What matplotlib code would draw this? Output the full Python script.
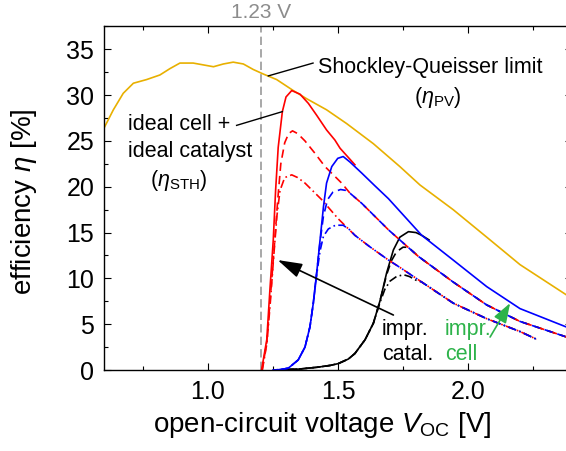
import matplotlib
matplotlib.use('Agg')
import matplotlib.pyplot as plt
from matplotlib.ticker import MultipleLocator

plt.rcParams['font.family'] = ['Liberation Sans', 'DejaVu Sans']
plt.rcParams['mathtext.fontset'] = 'custom'
plt.rcParams['mathtext.rm'] = 'Liberation Sans'
plt.rcParams['mathtext.it'] = 'Liberation Sans:italic'

# Shockley-Queisser limit (eta_PV)
sq_v = [0.6, 0.636, 0.674, 0.713, 0.764, 0.815, 0.854, 0.892, 0.943, 0.982, 1.021,
        1.059, 1.097, 1.136, 1.174, 1.213, 1.264, 1.328, 1.38, 1.456, 1.533, 1.636,
        1.738, 1.815, 1.943, 2.072, 2.2, 2.4]
sq_eta = [26.4, 28.4, 30.2, 31.3, 31.7, 32.2, 32.9, 33.5, 33.5, 33.3, 33.1,
          33.4, 33.6, 33.4, 32.8, 32.3, 31.7, 30.5, 29.6, 28.4, 26.9, 24.7,
          22.2, 20.2, 17.5, 14.5, 11.5, 7.8]

# red = ideal cell, solid / dashed / dash-dot = catalyst quality
red_v = [1.206, 1.226, 1.238, 1.251, 1.26, 1.27, 1.286, 1.3, 1.322, 1.354, 1.386,
         1.418, 1.456, 1.488, 1.508, 1.565]
red_eta = [0, 3.3, 8.7, 14.2, 19.6, 24.3, 28.2, 29.8, 30.5, 30.1, 29.1,
           27.8, 26.2, 25.1, 24.2, 22.4]

red_d_v = [1.208, 1.226, 1.24, 1.255, 1.268, 1.28, 1.295, 1.31, 1.325, 1.345, 1.373,
           1.41, 1.45, 1.514, 1.546, 1.591, 1.694, 1.809, 1.943, 2.072, 2.2, 2.4]
red_d_eta = [0, 3.0, 8.0, 13.5, 18.5, 22.5, 24.8, 25.8, 26.1, 25.8, 25.0,
             23.7, 22.2, 20.4, 19.3, 18.2, 15.3, 12.4, 9.6, 7.1, 5.3, 3.4]

red_dd_v = [1.209, 1.227, 1.24, 1.253, 1.265, 1.277, 1.295, 1.322, 1.345, 1.373,
            1.437, 1.501, 1.533, 1.565, 1.62, 1.694, 1.738, 1.822, 1.943, 2.072,
            2.2, 2.264]
red_dd_eta = [0, 3.0, 7.5, 12.5, 16.8, 19.6, 21.0, 21.3, 21.0, 20.4,
              18.6, 16.5, 15.6, 14.7, 13.5, 12.0, 11.2, 9.6, 7.3, 5.6,
              4.2, 3.35]

# blue = improved cell
blue_v = [1.25, 1.28, 1.309, 1.347, 1.373, 1.392, 1.405, 1.418, 1.431, 1.444, 1.456,
          1.476, 1.499, 1.52, 1.546, 1.591, 1.642, 1.694, 1.822, 1.943, 2.072, 2.2, 2.4]
blue_eta = [0, 0.05, 0.2, 1.1, 2.5, 4.7, 7.3, 10.6, 14.2, 17.8, 20.4,
            22.2, 23.1, 23.3, 22.7, 21.5, 20.1, 18.7, 14.7, 12.0, 9.1, 6.7, 4.45]

blue_d_v = [1.25, 1.28, 1.309, 1.347, 1.373, 1.392, 1.405, 1.418, 1.431, 1.444, 1.46,
            1.48, 1.51, 1.53, 1.546, 1.591, 1.694, 1.809, 1.943, 2.072, 2.2, 2.4]
blue_d_eta = [0, 0.05, 0.2, 1.1, 2.5, 4.7, 7.3, 10.6, 14.0, 16.8, 18.6,
              19.4, 19.7, 19.6, 19.3, 18.2, 15.3, 12.4, 9.6, 7.1, 5.3, 3.4]

blue_dd_v = [1.25, 1.28, 1.309, 1.347, 1.373, 1.392, 1.405, 1.418, 1.431, 1.444,
             1.463, 1.49, 1.52, 1.545, 1.565, 1.62, 1.694, 1.738, 1.822, 1.943,
             2.072, 2.2, 2.264]
blue_dd_eta = [0, 0.05, 0.2, 1.1, 2.5, 4.7, 7.3, 10.4, 13.0, 14.6,
               15.4, 15.8, 15.8, 15.3, 14.7, 13.5, 12.0, 11.2, 9.6, 7.3,
               5.6, 4.2, 3.35]

# black = improved catalyst
blk_v = [1.26, 1.35, 1.42, 1.47, 1.501, 1.54, 1.565, 1.604, 1.636, 1.662, 1.687,
         1.713, 1.738, 1.771, 1.8, 1.822, 1.85]
blk_eta = [0, 0.1, 0.3, 0.5, 0.7, 1.2, 1.8, 3.3, 5.1, 7.6, 10.6,
           13.1, 14.5, 15.1, 15.0, 14.7, 14.2]

blk_d_v = [1.26, 1.35, 1.42, 1.47, 1.501, 1.54, 1.565, 1.604, 1.636, 1.662, 1.687,
           1.705, 1.725, 1.75, 1.77, 1.79, 1.809, 1.943, 2.072, 2.2, 2.4]
blk_d_eta = [0, 0.1, 0.3, 0.5, 0.7, 1.2, 1.8, 3.3, 5.1, 7.6, 10.4,
             11.9, 12.9, 13.4, 13.4, 12.9, 12.4, 9.6, 7.1, 5.3, 3.4]

blk_dd_v = [1.26, 1.35, 1.42, 1.47, 1.501, 1.54, 1.565, 1.604, 1.636, 1.662, 1.68,
            1.70, 1.725, 1.752, 1.775, 1.80, 1.822, 1.943, 2.072, 2.2, 2.264]
blk_dd_eta = [0, 0.1, 0.3, 0.5, 0.7, 1.2, 1.8, 3.3, 5.1, 7.4, 8.8,
              9.7, 10.2, 10.4, 10.2, 9.8, 9.6, 7.3, 5.6, 4.2, 3.35]

v_water = 1.205

yellow = '#E8B000'
green = '#2DB34A'
lw = 1.2
dashed = (0, (5, 3))
dashdot = (0, (5, 2, 1, 2))

fig = plt.figure(figsize=(5.66, 4.51), dpi=100)
ax = fig.add_axes([104/566, 81/451, 468/566, 344.5/451])

ax.axvline(v_water, color='#999999', lw=1.2, ls=(0, (5, 2.5)), zorder=1)
ax.plot(sq_v, sq_eta, color=yellow, lw=lw)

ax.plot(red_v, red_eta, color='red', lw=lw)
ax.plot(red_d_v, red_d_eta, color='red', lw=lw, ls=dashed)
ax.plot(red_dd_v, red_dd_eta, color='red', lw=lw, ls=dashdot)
ax.plot(blue_v, blue_eta, color='blue', lw=lw)
ax.plot(blue_d_v, blue_d_eta, color='blue', lw=lw, ls=(4, (5, 3)))
ax.plot(blue_dd_v, blue_dd_eta, color='blue', lw=lw, ls=(5, (5, 2, 1, 2)))
ax.plot(blk_v, blk_eta, color='black', lw=lw, zorder=1.9)
ax.plot(blk_d_v, blk_d_eta, color='black', lw=lw, ls=(2, (5, 3)), zorder=1.9)
ax.plot(blk_dd_v, blk_dd_eta, color='black', lw=lw, ls=(2, (5, 2, 1, 2)), zorder=1.9)

ax.set_xlim(0.6, 2.4)
ax.set_ylim(0, 37.6)
ax.xaxis.set_major_locator(MultipleLocator(0.5))
ax.xaxis.set_minor_locator(MultipleLocator(0.25))
ax.yaxis.set_major_locator(MultipleLocator(5))
ax.yaxis.set_minor_locator(MultipleLocator(2.5))
ax.tick_params(which='both', direction='in', top=True, right=True, width=0.8)
ax.tick_params(which='major', length=5, labelsize=18, pad=7)
ax.tick_params(which='minor', length=2.6)
for s in ax.spines.values():
    s.set_linewidth(1.0)

ax.set_xlabel(r'open-circuit voltage $V_{\mathrm{OC}}$ [V]', fontsize=20)
ax.set_ylabel(r'efficiency $\eta$ [%]', fontsize=20)
ax.xaxis.set_label_coords(0.466, -0.115)
ax.yaxis.set_label_coords(-0.138, 0.49)

fs = 15.5
ax.text(v_water, 39.0, '1.23 V', color='#8c8c8c', fontsize=15, ha='center', va='center', clip_on=False)

ax.text(1.424, 32.45, 'Shockley-Queisser limit', fontsize=fs, ha='left', va='baseline')
ax.text(1.883, 29.7, r'($\eta_{\mathrm{PV}}$)', fontsize=fs, ha='center', va='center')
ax.plot([1.404, 1.232], [33.5, 32.1], color='black', lw=1.0)

ax.text(0.693, 26.2, 'ideal cell +', fontsize=fs, ha='left', va='baseline')
ax.text(0.693, 23.3, 'ideal catalyst', fontsize=fs, ha='left', va='baseline')
ax.text(0.888, 20.7, r'($\eta_{\mathrm{STH}}$)', fontsize=fs, ha='center', va='center')
ax.plot([1.110, 1.286], [26.7, 28.2], color='black', lw=1.0)

ax.text(1.668, 3.8, 'impr.', fontsize=fs, ha='left', va='baseline')
ax.text(1.668, 1.1, 'catal.', fontsize=fs, ha='left', va='baseline')
ax.annotate('', xy=(1.268, 12.0), xytext=(1.713, 6.0),
            arrowprops=dict(arrowstyle='-|>,head_length=1.0,head_width=0.3',
                            mutation_scale=15, color='black', lw=1.2,
                            shrinkA=0, shrinkB=0))

ax.text(1.912, 3.8, 'impr.', fontsize=fs, ha='left', va='baseline', color=green)
ax.text(1.912, 1.1, 'cell', fontsize=fs, ha='left', va='baseline', color=green)
ax.annotate('', xy=(2.162, 7.3), xytext=(2.085, 3.6),
            arrowprops=dict(arrowstyle='-|>,head_length=1.0,head_width=0.35',
                            mutation_scale=12, color=green, lw=1.2,
                            shrinkA=0, shrinkB=0))

fig.savefig('out.png', dpi=100)
